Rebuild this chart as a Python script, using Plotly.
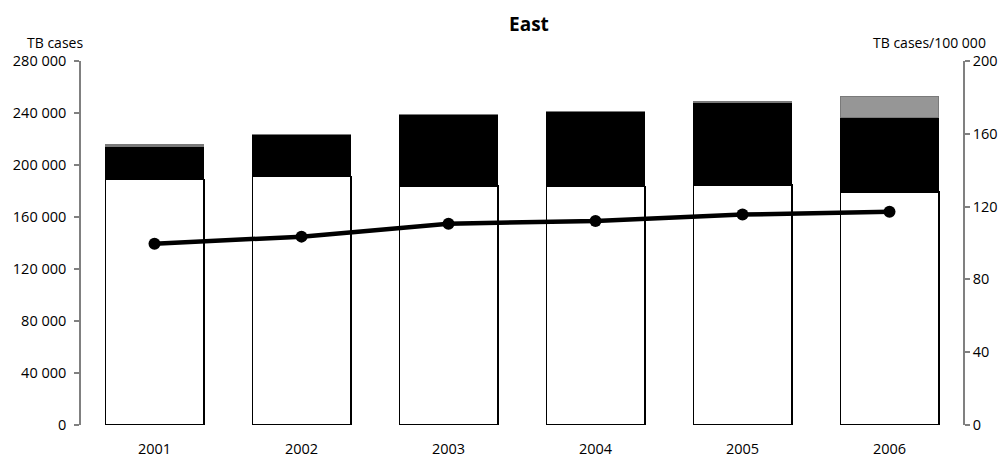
import plotly.graph_objects as go

years = ["2001", "2002", "2003", "2004", "2005", "2006"]
cases_white = [189000, 191000, 183800, 183300, 184800, 179200]
cases_black = [25600, 32600, 55200, 58000, 63400, 57500]
cases_gray = [1300, 0, 0, 0, 900, 15800]
rate = [99.6, 103.5, 110.6, 112.1, 115.6, 117.2]

left_ticks = [0, 40000, 80000, 120000, 160000, 200000, 240000, 280000]
left_ticktext = ["0", "40 000", "80 000", "120 000", "160 000", "200 000", "240 000", "280 000"]
right_ticks = [0, 40, 80, 120, 160, 200]

FONT = "Open Sans"
FS = 14.5

fig = go.Figure()
fig.add_trace(go.Bar(x=years, y=cases_white, marker=dict(color="white", line=dict(color="black", width=1.5)), showlegend=False))
fig.add_trace(go.Bar(x=years, y=cases_black, marker=dict(color="black", line=dict(color="black", width=1)), showlegend=False))
fig.add_trace(go.Bar(x=years, y=cases_gray, marker=dict(color="#969696", line=dict(color="#7a7a7a", width=1.2)), showlegend=False))
fig.add_trace(go.Scatter(x=years, y=rate, yaxis="y2", mode="lines+markers",
                         line=dict(color="black", width=4.5), marker=dict(color="black", size=12),
                         showlegend=False))

fig.update_layout(
    width=998, height=452,
    margin=dict(l=73, r=43, t=53, b=35, autoexpand=False),
    barmode="stack", bargap=0.33,
    plot_bgcolor="white", paper_bgcolor="white",
    font=dict(family=FONT, size=FS, color="black"),
    title=dict(text="<b>East</b>", x=0.522, xref="container", y=0.963, yanchor="middle",
               font=dict(family=FONT, size=19, color="black")),
    xaxis=dict(showline=False, ticks="", showgrid=False, zeroline=False, automargin=False,
               ticklabelstandoff=13, tickfont=dict(size=FS)),
    yaxis=dict(range=[0, 280000], tickvals=left_ticks, ticktext=left_ticktext, automargin=False,
               showline=True, linecolor="#808080", linewidth=1.5,
               ticks="outside", ticklen=5, tickcolor="#808080", tickwidth=1.5,
               ticklabelstandoff=5,
               showgrid=False, zeroline=False, tickfont=dict(size=FS)),
    yaxis2=dict(range=[0, 200], tickvals=right_ticks, overlaying="y", side="right", automargin=False,
                showline=True, linecolor="#808080", linewidth=1.5,
                ticks="outside", ticklen=5, tickcolor="#808080", tickwidth=1.5,
                showgrid=False, zeroline=False, tickfont=dict(size=FS)),
    annotations=[
        dict(text="TB cases", xref="paper", yref="paper", x=0.0, y=1.0, xshift=4, yshift=19,
             xanchor="right", yanchor="middle", showarrow=False, font=dict(size=FS - 0.5)),
        dict(text="TB cases/100 000", xref="paper", yref="paper", x=1.0, y=1.0, xshift=25, yshift=19,
             xanchor="right", yanchor="middle", showarrow=False, font=dict(size=FS - 0.5)),
    ],
)

fig.write_html("out.html")
